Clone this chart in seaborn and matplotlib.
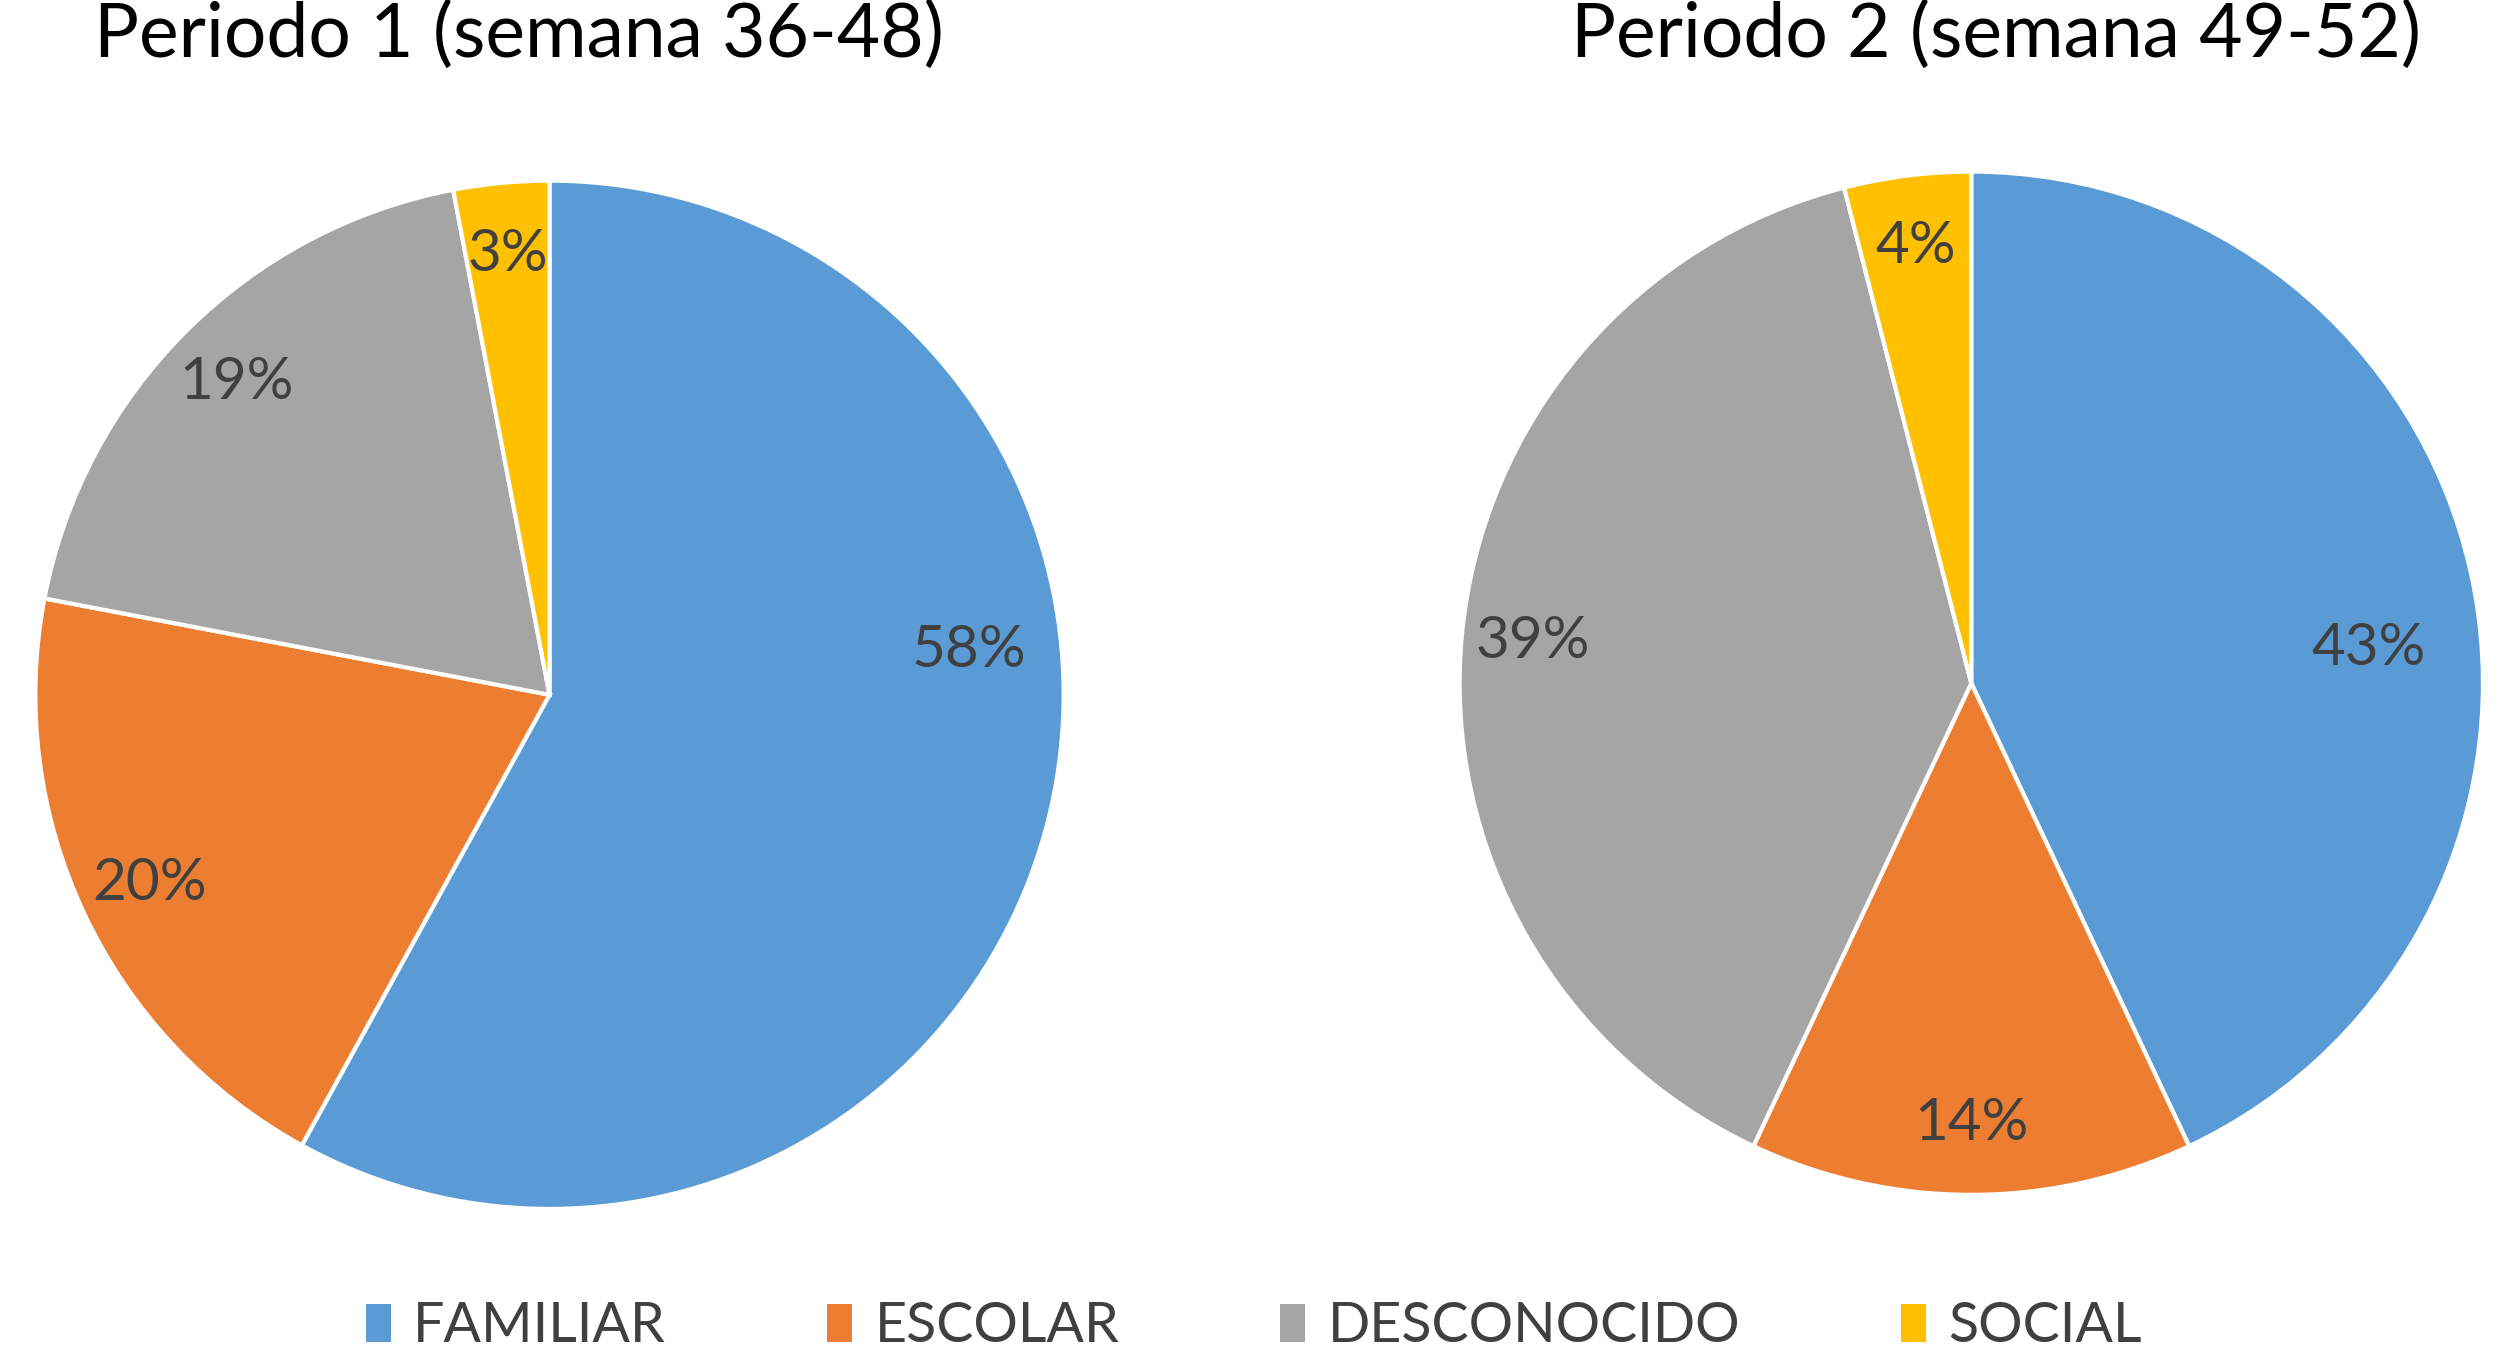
import numpy as np
import pandas as pd
import seaborn as sns
import matplotlib.pyplot as plt
from matplotlib.patches import Patch

sns.set_theme(style="white")
plt.rcParams['font.family'] = ['Lato', 'DejaVu Sans']

# data
categories = ['FAMILIAR', 'ESCOLAR', 'DESCONOCIDO', 'SOCIAL']
periodo1 = [58, 20, 19, 3]
periodo2 = [43, 14, 39, 4]
titles = ['Periodo 1 (semana 36-48)', 'Periodo 2 (semana 49-52)']

colors = sns.color_palette(['#5B9BD5', '#ED7D31', '#A5A5A5', '#FFC000'])

fig = plt.figure(figsize=(12.54, 6.805), dpi=200)
fig.patch.set_facecolor('white')

# axes placed around each pie
ax1 = fig.add_axes([0.0141, 0.111, 0.410, 0.757])
ax2 = fig.add_axes([0.582, 0.122, 0.408, 0.752])

# the big slice label sits near the horizontal ("best fit" style)
big_label = [(6, 0.82), (5, 0.78)]

for ax, vals, (ang, rr) in [(ax1, periodo1, big_label[0]), (ax2, periodo2, big_label[1])]:
    wedges, texts, autotexts = ax.pie(
        vals, colors=colors, startangle=90, counterclock=False,
        autopct='%1.0f%%', pctdistance=0.86,
        wedgeprops=dict(edgecolor='white', linewidth=1.5),
        textprops=dict(color='#404040', fontsize=21))
    autotexts[0].set_position((rr * np.cos(np.radians(ang)), rr * np.sin(np.radians(ang))))
    ax.set_xlim(-1.0, 1.0)
    ax.set_ylim(-1.0, 1.0)
    ax.set_aspect('equal')
    ax.axis('off')

fig.text(0.207, 0.974, titles[0], ha='center', va='center', fontsize=27, color='black')
fig.text(0.796, 0.974, titles[1], ha='center', va='center', fontsize=27, color='black')

handles = [Patch(facecolor=c, edgecolor='none') for c in colors]
fig.legend(handles, categories, loc='center', bbox_to_anchor=(0.5, 0.025),
           ncol=4, frameon=False, fontsize=20, handlelength=0.45, handleheight=0.7,
           handletextpad=0.4, columnspacing=2.9, labelcolor='#404040')

fig.savefig('out.png', dpi=200, facecolor='white')
